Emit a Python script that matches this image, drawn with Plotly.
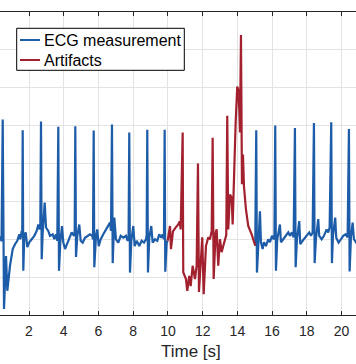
import plotly.graph_objects as go

# ---- data (time in s, amplitude in grid units) ----
ecg_t1 = [0.330, 0.417, 0.486, 0.561, 0.676, 0.751, 0.906, 1.062, 1.194, 1.326, 1.442, 1.499, 1.580, 1.609,
          1.637, 1.672, 1.730, 1.810, 1.902, 2.017, 2.155, 2.305, 2.443, 2.535, 2.593, 2.651, 2.691, 2.731,
          2.789, 2.904, 2.979, 3.111, 3.209, 3.364, 3.457, 3.555, 3.629, 3.687, 3.727, 3.802, 3.900, 3.975,
          4.073, 4.228, 4.360, 4.458, 4.591, 4.631, 4.666, 4.706, 4.781, 4.896, 4.976, 5.092, 5.224, 5.357,
          5.512, 5.644, 5.685, 5.725, 5.760, 5.857, 5.932, 6.013, 6.128, 6.278, 6.433, 6.566, 6.663, 6.721,
          6.778, 6.819, 6.876, 6.911, 7.009, 7.142, 7.279, 7.429, 7.584, 7.682, 7.734, 7.774, 7.815, 7.890,
          8.005, 8.085, 8.200, 8.350, 8.488, 8.621, 8.736, 8.776, 8.811, 8.851, 8.926, 9.041, 9.121, 9.254,
          9.386, 9.501, 9.617, 9.697, 9.772, 9.812, 9.847, 9.928, 9.985]
ecg_v1 = [0.08, -0.05, 3.16, -1.84, -0.44, -1.36, -0.70, -0.26, -0.13, -0.04, 0.13, 0.00, 0.22, 0.05,
          2.88, -0.83, 0.09, 0.18, -0.21, -0.08, 0.00, 0.09, 0.22, 0.39, 0.26, 0.37, 3.11, -0.53,
          0.18, 0.97, 0.31, 0.22, 0.09, 0.13, 0.00, 0.13, -0.04, 2.97, -0.83, -0.09, 0.35, -0.08,
          -0.26, -0.09, 0.04, 0.18, 0.09, 0.21, 2.98, -0.47, 0.09, 0.39, -0.04, -0.09, 0.04, 0.09,
          0.13, 0.09, 0.00, 2.87, -0.74, 0.09, 0.26, -0.18, 0.00, 0.13, 0.26, 0.35, 0.44, 0.22,
          3.03, -0.63, 0.26, 0.57, 0.00, -0.09, 0.09, 0.04, 0.09, -0.04, 0.05, 2.82, -0.88, -0.04,
          0.35, -0.18, -0.04, -0.18, -0.04, -0.09, 0.00, 0.11, 2.89, -0.88, 0.04, 0.35, -0.09, 0.00,
          -0.04, 0.13, 0.04, 0.13, 0.00, 2.89, -0.86, -0.09, -0.04]

art_t = [9.985, 10.118, 10.175, 10.290, 10.463, 10.595, 10.676, 10.734, 10.849, 10.883, 11.038, 11.113,
         11.228, 11.309, 11.424, 11.557, 11.654, 11.730, 11.787, 11.902, 11.977, 12.058, 12.190, 12.323,
         12.420, 12.518, 12.576, 12.633, 12.748, 12.806, 12.898, 12.996, 13.094, 13.186, 13.284, 13.359,
         13.416, 13.474, 13.572, 13.670, 13.727, 13.802, 13.900, 13.992, 14.050, 14.108, 14.148, 14.206,
         14.263, 14.321, 14.378, 14.493, 14.625, 14.821, 14.950, 15.028]
art_v = [-0.04, 0.35, -0.26, 0.21, 0.32, 0.39, 0.47, 0.26, 2.82, -0.87, -1.05, -1.36,
         -0.97, -1.24, -0.70, -1.05, -0.70, 2.00, -1.39, -0.44, 0.05, -1.45, -0.18, 0.05,
         0.00, 0.21, 2.68, -1.05, 0.18, 0.26, -0.70, 0.00, -0.34, -0.18, 0.00, 0.11,
         3.26, 0.26, 1.18, 1.10, 0.39, 1.76, 3.08, 4.03, 3.95, 3.42, 2.82, 5.39,
         1.45, 2.24, 1.40, 0.79, 0.35, 0.13, -0.10, -0.17]

ecg_t2 = [15.028, 15.086, 15.126, 15.224, 15.299, 15.356, 15.454, 15.529, 15.644, 15.777, 15.875, 15.990,
          16.088, 16.134, 16.180, 16.220, 16.295, 16.450, 16.508, 16.641, 16.796, 16.929, 17.025, 17.141,
          17.239, 17.314, 17.354, 17.429, 17.562, 17.619, 17.757, 17.890, 18.022, 18.137, 18.235, 18.333,
          18.408, 18.448, 18.523, 18.655, 18.713, 18.851, 18.983, 19.139, 19.231, 19.311, 19.404, 19.444,
          19.502, 19.633, 19.691, 19.829, 19.962, 20.095, 20.233, 20.348, 20.423, 20.463, 20.538, 20.636,
          20.711, 20.826, 20.941]
ecg_v2 = [-0.17, 2.88, -0.88, -0.13, 0.74, -0.08, -0.26, -0.08, -0.18, 0.00, -0.08, 0.09,
          0.00, 0.13, 3.00, -0.83, 0.00, 0.39, -0.08, 0.00, 0.09, 0.18, 0.09, 0.18,
          0.05, 2.94, -0.74, 0.00, 0.48, -0.13, -0.04, 0.04, 0.09, 0.18, 0.09, 0.18,
          3.07, -0.63, 0.00, 0.53, 0.09, 0.00, 0.09, 0.26, 0.18, 0.31, 3.09, -0.63,
          0.09, 0.57, 0.04, -0.09, 0.00, 0.09, 0.13, 0.05, 2.91, -0.85, 0.05, 0.44,
          0.00, -0.08, 0.00]

x_ticks = [2, 4, 6, 8, 10, 12, 14, 16, 18, 20]
series_names = ["ECG measurement", "Artifacts"]
x_label = "Time [s]"

BLUE = "#1c5ca8"
RED = "#a3202f"
FONT = "Liberation Sans, Arial, Helvetica, sans-serif"
AX = "#262626"

fig = go.Figure()
fig.add_trace(go.Scatter(x=ecg_t1 + [None] + ecg_t2, y=ecg_v1 + [None] + ecg_v2, mode="lines",
                         name=series_names[0], line=dict(color=BLUE, width=2.2), connectgaps=False,
                         showlegend=False))
fig.add_trace(go.Scatter(x=art_t, y=art_v, mode="lines", name=series_names[1],
                         line=dict(color=RED, width=2.2), showlegend=False))

W, H = 356, 364
ML, MR, MT, MB = 0, 0, 12, 49
PH = H - MT - MB


def px(x):
    return x / W


def py(y):
    return (H - MB - y) / PH


shapes = [
    dict(type="rect", xref="paper", yref="paper", x0=px(16.7), x1=px(184.3), y0=py(70.3), y1=py(28.3),
         line=dict(color="#000000", width=1), fillcolor="white", layer="above"),
    dict(type="line", xref="paper", yref="paper", x0=px(20), x1=px(40), y0=py(40), y1=py(40),
         line=dict(color=BLUE, width=2)),
    dict(type="line", xref="paper", yref="paper", x0=px(20), x1=px(40), y0=py(60), y1=py(60),
         line=dict(color=RED, width=2)),
]
annotations = [
    dict(text=series_names[0], xref="paper", yref="paper", x=px(42), y=py(40), xanchor="left",
         yanchor="middle", showarrow=False, font=dict(family=FONT, size=16, color="#000000")),
    dict(text=series_names[1], xref="paper", yref="paper", x=px(42), y=py(60), xanchor="left",
         yanchor="middle", showarrow=False, font=dict(family=FONT, size=16, color="#000000")),
    dict(text=x_label, xref="paper", yref="paper", x=px(191), y=py(351.5), xanchor="center",
         yanchor="middle", showarrow=False, font=dict(family=FONT, size=17, color=AX)),
]

fig.update_layout(
    width=W, height=H,
    margin=dict(l=ML, r=MR, t=MT, b=MB, pad=0),
    paper_bgcolor="white", plot_bgcolor="white",
    font=dict(family=FONT, color=AX),
    showlegend=False,
    shapes=shapes, annotations=annotations,
    xaxis=dict(range=[0.33, 20.83], tickvals=x_ticks, ticks="inside", ticklen=4, tickwidth=1,
               tickcolor=AX, showline=True, linecolor=AX, linewidth=1, mirror="ticks",
               showgrid=True, gridcolor="#e3e3e3", gridwidth=1, zeroline=False, automargin=False,
               ticklabelstandoff=3,
               tickfont=dict(family=FONT, size=14, color=AX)),
    yaxis=dict(range=[-2, 6], dtick=1, showticklabels=False, ticks="", showline=False,
               showgrid=True, gridcolor="#e3e3e3", gridwidth=1, zeroline=False, automargin=False),
)

fig.write_html("out.html", config={"displayModeBar": False},
               post_script="document.body.style.margin='0';document.body.style.overflow='hidden';")
